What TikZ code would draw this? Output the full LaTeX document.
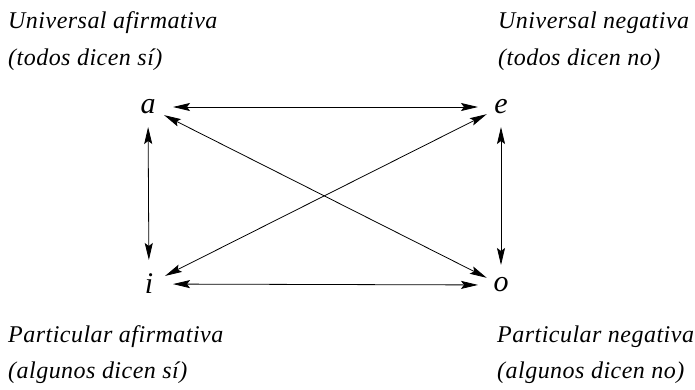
\documentclass[tikz,border=0pt]{standalone}
\usepackage{fontspec}
\setmainfont{Liberation Serif}
\newfontfamily\labelfont[LetterSpace=2]{Liberation Serif}
\usetikzlibrary{arrows.meta}
\begin{document}
\begin{tikzpicture}[x=1pt,y=-1pt,
  label/.style={anchor=base west,inner sep=0pt,font=\labelfont\fontsize{24}{28}\selectfont\itshape},
  vertex/.style={inner sep=0pt,font=\fontsize{30}{32}\selectfont\itshape},
  conn/.style={line width=0.8pt,{Stealth[length=17pt,width=8pt,inset=3pt]}-{Stealth[length=17pt,width=8pt,inset=3pt]}}]
\useasboundingbox (0,0) rectangle (695,389);
\node[label] (ua) at (8,28) {Universal afirmativa};
\node[label] (uab) at (8,65) {(todos dicen sí)};
\node[label] (un) at (498,28) {Universal negativa};
\node[label] (unb) at (498,65) {(todos dicen no)};
\node[label] (pa) at (8,342) {Particular afirmativa};
\node[label] (pab) at (8,378) {(algunos dicen sí)};
\node[label] (pn) at (497,342) {Particular negativa};
\node[label] (pnb) at (497,378) {(algunos dicen no)};
\node[vertex] (a) at (148,107) {a};
\node[vertex] (e) at (501,107) {e};
\node[vertex] (i) at (149,284) {i};
\node[vertex] (o) at (501,285) {o};
\draw[conn,shorten <=25pt,shorten >=23pt] (a.center) -- (e.center);
\draw[conn,shorten <=24pt,shorten >=23pt] (i.center) -- (o.center);
\draw[conn,shorten <=20pt,shorten >=24pt] (a.center) -- (i.center);
\draw[conn,shorten <=20pt,shorten >=20pt] (e.center) -- (o.center);
\draw[conn,shorten <=18pt,shorten >=16pt] (a.center) -- (o.center);
\draw[conn,shorten <=16pt,shorten >=18pt] (e.center) -- (i.center);
\end{tikzpicture}
\end{document}
